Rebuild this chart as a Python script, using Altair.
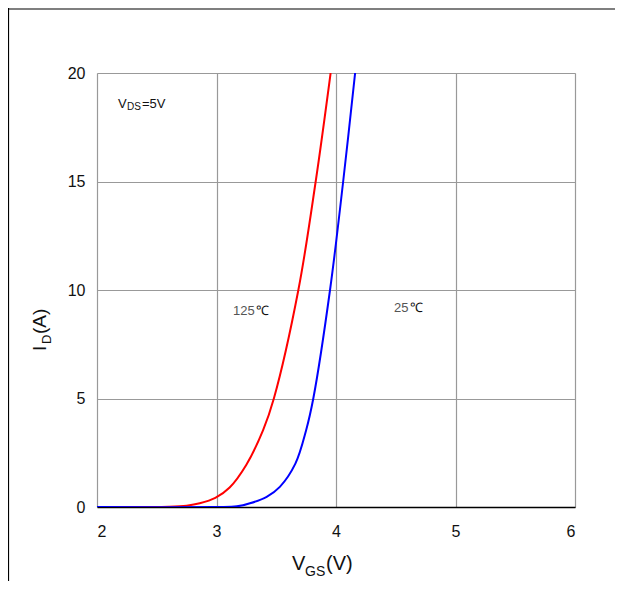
import altair as alt
import pandas as pd

# 125°C curve (red)
v_125 = [2.0, 2.4, 2.6, 2.75, 2.86, 2.99, 3.11, 3.25, 3.39, 3.48, 3.685, 3.83, 3.955]
i_125 = [0.0, 0.0, 0.01, 0.06, 0.17, 0.42, 0.9, 1.95, 3.54, 5.0, 10.0, 15.0, 20.0]
# 25°C curve (blue)
v_25 = [2.0, 3.0, 3.17, 3.28, 3.42, 3.53, 3.66, 3.75, 3.81, 3.95, 4.06, 4.16]
i_25 = [0.0, 0.0, 0.03, 0.17, 0.47, 0.93, 2.0, 3.54, 5.0, 10.0, 15.0, 20.0]

x_ticks = [2, 3, 4, 5, 6]
y_ticks = [0, 5, 10, 15, 20]

rows = [{"vgs": v, "id": i, "series": "125", "order": k} for k, (v, i) in enumerate(zip(v_125, i_125))]
rows += [{"vgs": v, "id": i, "series": "25", "order": k} for k, (v, i) in enumerate(zip(v_25, i_25))]
df = pd.DataFrame(rows)

W, H = 478, 434
FONT = "Liberation Sans"

xscale = alt.Scale(domain=[2, 6], nice=False)
yscale = alt.Scale(domain=[0, 20], nice=False)

lines = alt.Chart(df).mark_line(strokeWidth=2, interpolate="catmull-rom", clip=True).encode(
    x=alt.X("vgs:Q", scale=xscale,
            axis=alt.Axis(values=x_ticks, title=None, grid=True, gridColor="#999999", gridWidth=1.2,
                          domainColor="#000000", domainWidth=1.5, ticks=False, labelPadding=16,
                          labelFontSize=16, labelFont=FONT, labelColor="#111111", format="d")),
    y=alt.Y("id:Q", scale=yscale,
            axis=alt.Axis(values=y_ticks, title=None, grid=True, gridColor="#999999", gridWidth=1.2,
                          domain=False, ticks=False, labelPadding=12,
                          labelFontSize=16, labelFont=FONT, labelColor="#111111", format="d")),
    color=alt.Color("series:N", scale=alt.Scale(domain=["125", "25"], range=["#ff0000", "#0000ff"]), legend=None),
    order="order:Q",
)

one = pd.DataFrame({"a": [0]})

def txt(s, x, y, size, color="#111111", angle=0):
    kw = dict(align="left", baseline="alphabetic", fontSize=size, font=FONT, color=color, text=s)
    if angle:
        kw["angle"] = angle
    return alt.Chart(one).mark_text(**kw).encode(x=alt.value(x), y=alt.value(y))

texts = [
    # V_DS=5V
    txt("V", 21, 35, 13),
    txt("DS", 30, 37, 10),
    txt("=5V", 45, 35, 13),
    # temperatures
    txt("125", 136, 242, 13, "#555555"),
    txt("℃", 159, 242, 13, "#111111"),
    txt("25", 297, 239, 13, "#555555"),
    txt("℃", 313, 239, 13, "#111111"),
    # x title
    txt("V", 195, 497, 20),
    txt("GS", 208, 503, 14),
    txt("(V)", 229, 497, 20),
    # y title
    txt("I", -51, 278, 19, angle=270),
    txt("D", -46, 271, 13, angle=270),
    txt("(A)", -51, 261, 19, angle=270),
]

frame_top = alt.Chart(one).mark_rule(color="#000000", strokeWidth=1.2).encode(
    x=alt.value(-89), x2=alt.value(518), y=alt.value(-64))
frame_left = alt.Chart(one).mark_rule(color="#000000", strokeWidth=1.2).encode(
    x=alt.value(-88.5), y=alt.value(-65), y2=alt.value(508))

chart = alt.layer(frame_top, frame_left, lines, *texts).properties(
    width=W, height=H,
    autosize=alt.AutoSizeParams(type="none"),
    padding={"left": 89, "top": 65, "right": 40, "bottom": 74},
).configure_view(stroke="#999999", strokeWidth=1.2).configure(background="#ffffff")

chart.save("out.html", embed_options={"renderer": "svg", "actions": False})
